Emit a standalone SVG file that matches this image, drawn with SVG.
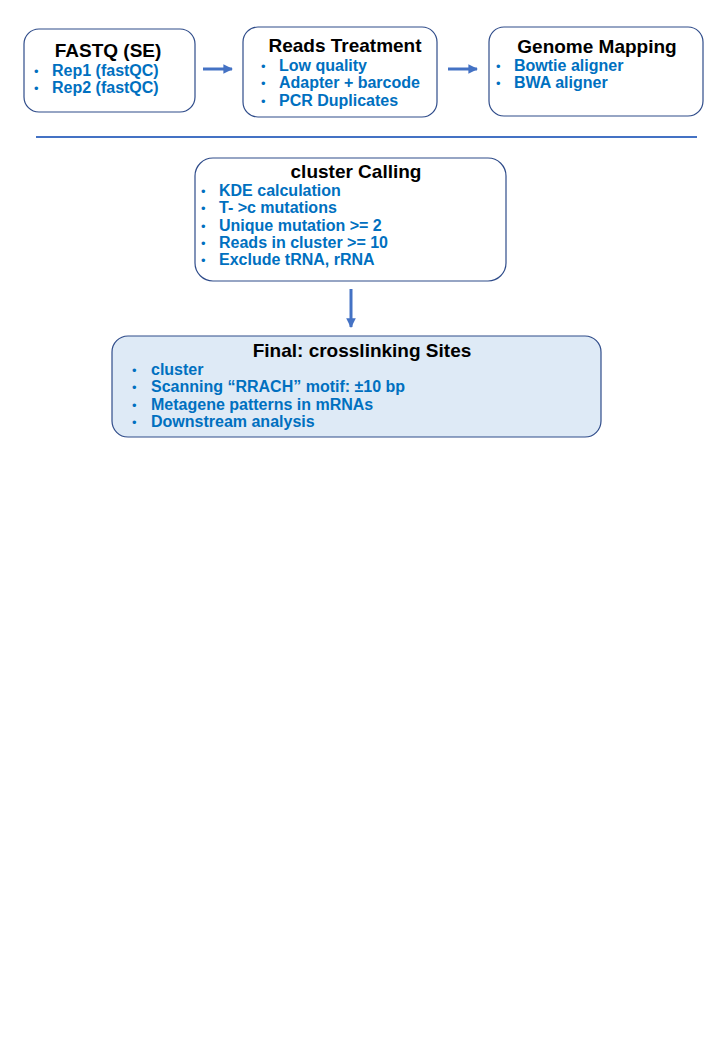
<svg xmlns="http://www.w3.org/2000/svg" width="720" height="1040" viewBox="0 0 720 1040">
<defs>
<marker id="ah" viewBox="0 0 10 10" refX="9" refY="5" markerWidth="3.2" markerHeight="3.2" orient="auto" markerUnits="strokeWidth">
<path d="M0,0 L10,5 L0,10 z" fill="#4472C4"/>
</marker>
<style>
.box{fill:#ffffff;stroke:#2F4C8A;stroke-width:1.2}
.boxf{fill:#DEEAF6;stroke:#2F4C8A;stroke-width:1.2}
.title{font-family:"Liberation Sans",Arial,sans-serif;font-weight:bold;font-size:19px;fill:#000000;text-anchor:middle}
.item{font-family:"Liberation Sans",Arial,sans-serif;font-weight:bold;font-size:16px;fill:#0070C0}
.bul{font-family:"Liberation Sans",Arial,sans-serif;font-size:13px;fill:#0070C0}
.conn{stroke:#4472C4;stroke-width:3;fill:none;marker-end:url(#ah)}
</style>
</defs>
<rect width="720" height="1040" fill="#ffffff"/>
<g id="fastq">
<rect class="box" x="24" y="29" width="171" height="83" rx="15"/>
<text class="title" x="108" y="57">FASTQ (SE)</text>
<text class="bul" x="34" y="76">•</text><text class="item" x="52" y="76">Rep1 (fastQC)</text>
<text class="bul" x="34" y="93">•</text><text class="item" x="52" y="93">Rep2 (fastQC)</text>
</g>
<g id="reads">
<rect class="box" x="243" y="27" width="194" height="90" rx="15"/>
<text class="title" x="345" y="52">Reads Treatment</text>
<text class="bul" x="261" y="71">•</text><text class="item" x="279" y="71">Low quality</text>
<text class="bul" x="261" y="88">•</text><text class="item" x="279" y="88">Adapter + barcode</text>
<text class="bul" x="261" y="106">•</text><text class="item" x="279" y="106">PCR Duplicates</text>
</g>
<g id="genome">
<rect class="box" x="489" y="27" width="214" height="89" rx="15"/>
<text class="title" x="597" y="53">Genome Mapping</text>
<text class="bul" x="496" y="71">•</text><text class="item" x="514" y="71">Bowtie aligner</text>
<text class="bul" x="496" y="88">•</text><text class="item" x="514" y="88">BWA aligner</text>
</g>
<g id="cluster">
<rect class="box" x="195" y="158" width="311" height="123" rx="18"/>
<text class="title" x="356" y="178">cluster Calling</text>
<text class="bul" x="201" y="196">•</text><text class="item" x="219" y="196">KDE calculation</text>
<text class="bul" x="201" y="213">•</text><text class="item" x="219" y="213">T- &gt;c mutations</text>
<text class="bul" x="201" y="231">•</text><text class="item" x="219" y="231">Unique mutation &gt;= 2</text>
<text class="bul" x="201" y="248">•</text><text class="item" x="219" y="248">Reads in cluster &gt;= 10</text>
<text class="bul" x="201" y="265">•</text><text class="item" x="219" y="265">Exclude tRNA, rRNA</text>
</g>
<g id="final">
<rect class="boxf" x="112" y="336" width="489" height="101" rx="16"/>
<text class="title" x="362" y="357">Final: crosslinking Sites</text>
<text class="bul" x="132" y="375">•</text><text class="item" x="151" y="375">cluster</text>
<text class="bul" x="132" y="392">•</text><text class="item" x="151" y="392">Scanning “RRACH” motif: ±10 bp</text>
<text class="bul" x="132" y="410">•</text><text class="item" x="151" y="410">Metagene patterns in mRNAs</text>
<text class="bul" x="132" y="427">•</text><text class="item" x="151" y="427">Downstream analysis</text>
</g>
<g id="connectors">
<line class="conn" x1="203" y1="69" x2="232" y2="69"/>
<line class="conn" x1="448" y1="69" x2="477" y2="69"/>
<line class="conn" x1="351" y1="289" x2="351" y2="327"/>
<line x1="36" y1="137" x2="697" y2="137" stroke="#4472C4" stroke-width="2"/>
</g>
</svg>
